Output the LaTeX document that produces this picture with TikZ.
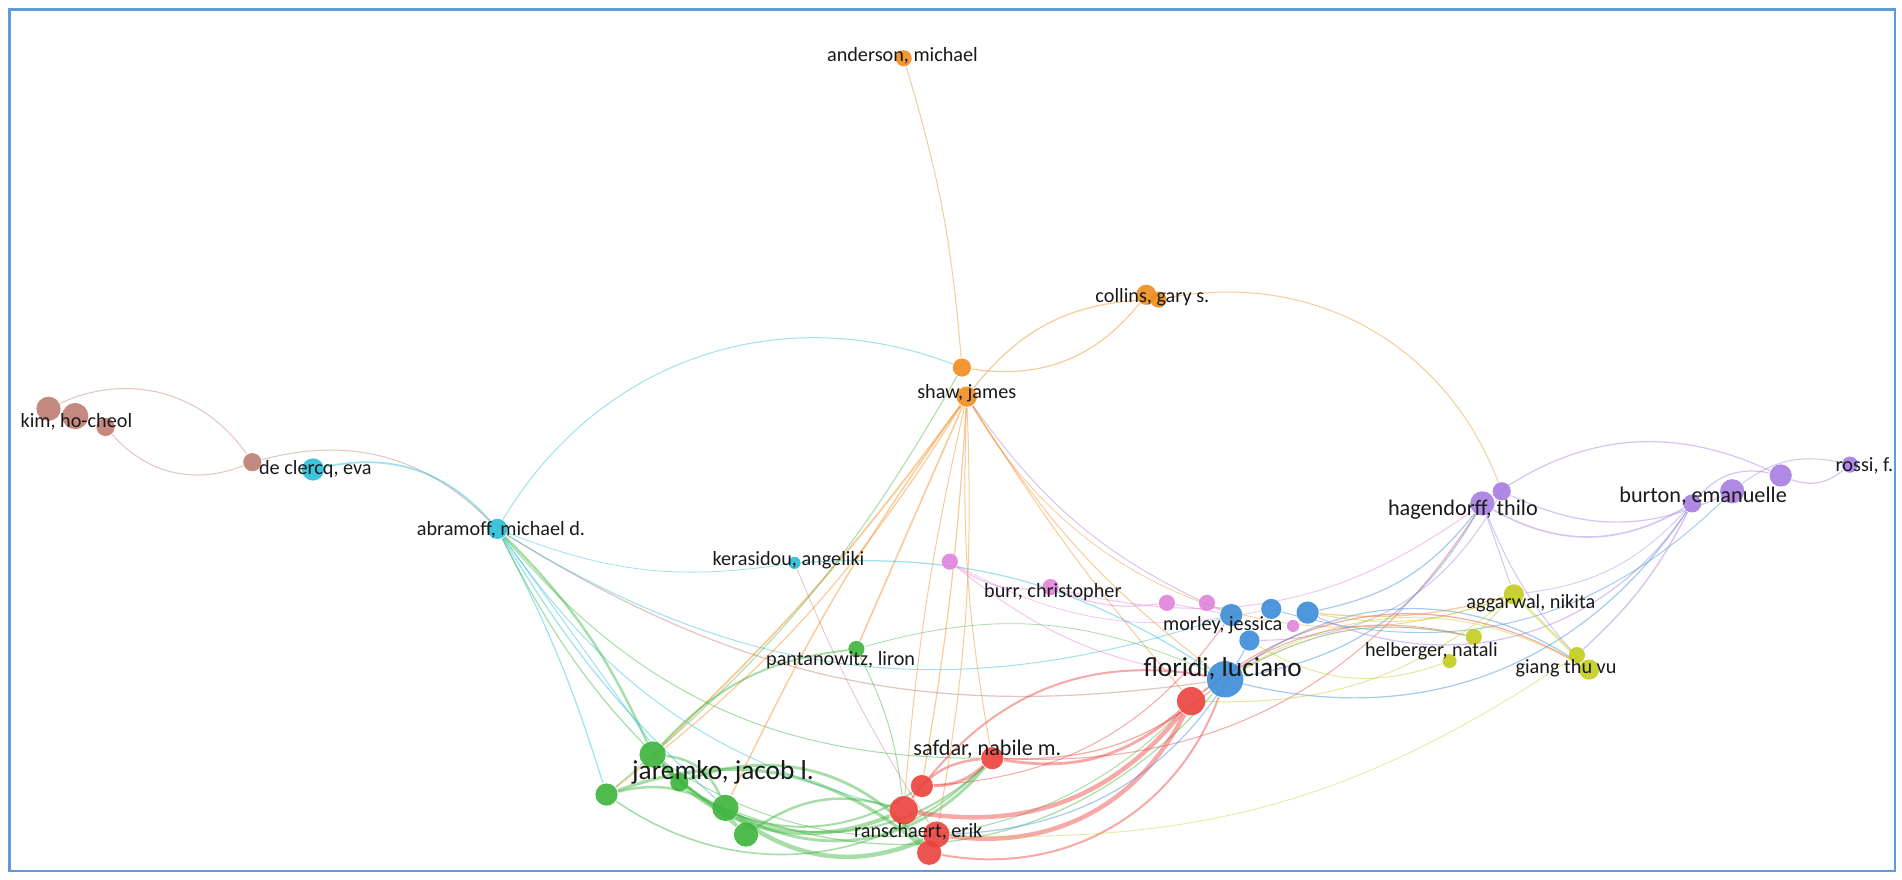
\documentclass[tikz,border=0pt]{standalone}
\usepackage{fontspec}
\setmainfont{Carlito}
\usepackage{xcolor}
\usetikzlibrary{backgrounds}
\definecolor{vorange}{RGB}{240,140,30}
\definecolor{vbrown}{RGB}{190,125,115}
\definecolor{vcyan}{RGB}{40,190,215}
\definecolor{vpink}{RGB}{225,130,220}
\definecolor{vblue}{RGB}{60,140,215}
\definecolor{vred}{RGB}{235,65,60}
\definecolor{vgreen}{RGB}{60,180,60}
\definecolor{vpurple}{RGB}{165,125,225}
\definecolor{vyellow}{RGB}{195,205,30}
\definecolor{vframe}{RGB}{95,155,215}
\tikzset{every picture/.style={line width=0.75pt}}

\begin{document}
\begin{tikzpicture}[x=0.6pt,y=-0.6pt,
  dot/.style={circle,fill=#1,draw=none,inner sep=0pt,fill opacity=0.9},
  lbl/.style={inner sep=0pt,text=black!90,font=\fontsize{10}{12}\selectfont},
  lblm/.style={lbl,font=\fontsize{11}{13}\selectfont},
  lblb/.style={lbl,font=\fontsize{13.5}{15}\selectfont},
  link/.style={draw=#1,draw opacity=0.45}]
\useasboundingbox (0,0) rectangle (1568,725);

%Circles: orange cluster
\node[dot=vorange,minimum size=8pt] (and) at (745,48) {};
\node[dot=vorange,minimum size=10pt] (col1) at (945,243) {};
\node[dot=vorange,minimum size=8pt] (col2) at (955,247) {};
\node[dot=vorange,minimum size=9pt] (shaw1) at (793,303) {};
\node[dot=vorange,minimum size=10pt] (shaw2) at (797,327) {};
%Circles: brown cluster
\node[dot=vbrown,minimum size=12pt] (kim1) at (40,337) {};
\node[dot=vbrown,minimum size=13pt] (kim2) at (62,343) {};
\node[dot=vbrown,minimum size=9pt] (kim3) at (87,352) {};
\node[dot=vbrown,minimum size=9pt] (dec1) at (208,381) {};
%Circles: cyan cluster
\node[dot=vcyan,minimum size=11pt] (dec2) at (258,387) {};
\node[dot=vcyan,minimum size=10pt] (abr) at (410,436) {};
\node[dot=vcyan,minimum size=6pt] (ker) at (655,464) {};
%Circles: pink cluster
\node[dot=vpink,minimum size=8pt] (pk1) at (783,463) {};
\node[dot=vpink,minimum size=8pt] (burr) at (866,484) {};
\node[dot=vpink,minimum size=8pt] (pk2) at (962,497) {};
\node[dot=vpink,minimum size=8pt] (pk3) at (995,497) {};
\node[dot=vpink,minimum size=6pt] (pk4) at (1066,516) {};
%Circles: blue cluster
\node[dot=vblue,minimum size=11pt] (mor1) at (1015,507) {};
\node[dot=vblue,minimum size=10pt] (mor2) at (1048,502) {};
\node[dot=vblue,minimum size=11pt] (mor3) at (1078,505) {};
\node[dot=vblue,minimum size=10pt] (mor4) at (1030,528) {};
\node[dot=vblue,minimum size=18pt] (flo) at (1010,560) {};
%Circles: red cluster
\node[dot=vred,minimum size=14pt] (red1) at (982,578) {};
\node[dot=vred,minimum size=11pt] (saf) at (818,625) {};
\node[dot=vred,minimum size=11pt] (ran1) at (760,648) {};
\node[dot=vred,minimum size=14pt] (ran2) at (745,668) {};
\node[dot=vred,minimum size=13pt] (ran3) at (772,688) {};
\node[dot=vred,minimum size=12pt] (ran4) at (766,703) {};
%Circles: green cluster
\node[dot=vgreen,minimum size=13pt] (jar1) at (538,622) {};
\node[dot=vgreen,minimum size=9pt] (jar2) at (560,645) {};
\node[dot=vgreen,minimum size=11pt] (jar3) at (500,655) {};
\node[dot=vgreen,minimum size=13pt] (jar4) at (598,666) {};
\node[dot=vgreen,minimum size=12pt] (jar5) at (615,688) {};
\node[dot=vgreen,minimum size=8pt] (pan) at (706,535) {};
%Circles: purple cluster
\node[dot=vpurple,minimum size=12pt] (hag1) at (1222,415) {};
\node[dot=vpurple,minimum size=9pt] (hag2) at (1238,405) {};
\node[dot=vpurple,minimum size=9pt] (bur1) at (1395,415) {};
\node[dot=vpurple,minimum size=12pt] (bur2) at (1428,405) {};
\node[dot=vpurple,minimum size=11pt] (bur3) at (1468,392) {};
\node[dot=vpurple,minimum size=8pt] (ros) at (1525,383) {};
%Circles: yellow cluster
\node[dot=vyellow,minimum size=10pt] (agg) at (1248,490) {};
\node[dot=vyellow,minimum size=8pt] (hel1) at (1215,525) {};
\node[dot=vyellow,minimum size=7pt] (hel2) at (1195,545) {};
\node[dot=vyellow,minimum size=8pt] (gia1) at (1300,540) {};
\node[dot=vyellow,minimum size=10pt] (gia2) at (1310,552) {};

\begin{scope}[on background layer]
%Frame
\draw[vframe,line width=1.2pt] (8,8) rectangle (1562,718);
%Links
\foreach \a/\b/\c/\w/\bd in {
  and/shaw1/vorange/0.5/6, shaw1/col1/vorange/0.6/-30, shaw2/col2/vorange/0.6/25,
  col2/hag2/vorange/0.5/40, shaw1/abr/vcyan/0.5/-40,
  shaw2/jar1/vorange/0.9/5, shaw2/jar4/vorange/0.7/-5, shaw2/jar3/vorange/0.6/10,
  shaw2/pan/vorange/0.8/0, shaw2/ran1/vorange/0.6/3, shaw2/ran2/vorange/0.5/-4,
  shaw2/ran3/vorange/0.5/6, shaw2/saf/vorange/0.5/-6, shaw2/flo/vorange/0.5/-10,
  shaw2/mor1/vpurple/0.5/-15, shaw2/red1/vorange/0.5/-4, shaw2/agg/vorange/0.4/-40,
  kim3/dec1/vbrown/0.5/-35, kim1/dec1/vbrown/0.5/40,
  dec1/abr/vbrown/0.5/30, dec2/abr/vcyan/0.9/30,
  abr/jar1/vgreen/1.2/10, abr/jar3/vcyan/0.6/5, abr/jar4/vcyan/0.6/-8,
  abr/jar5/vgreen/0.6/-12, abr/jar2/vcyan/0.5/0, abr/ran2/vcyan/0.5/-20,
  abr/saf/vgreen/0.5/-25, abr/flo/vbrown/0.6/-20, abr/mor1/vcyan/0.5/-25,
  abr/ker/vcyan/0.4/-15, ker/flo/vcyan/0.6/18, ker/ran3/vbrown/0.4/-5,
  jar1/ran2/vgreen/2/-35, jar4/ran3/vgreen/2.2/-30, jar3/ran4/vgreen/1.6/30,
  jar1/ran1/vgreen/1/-40, jar5/ran2/vgreen/1.2/25, jar1/saf/vgreen/1/-45,
  jar4/saf/vgreen/1.4/-40, jar2/ran4/vgreen/1.4/35,
  jar4/flo/vgreen/0.6/-35, jar1/red1/vgreen/0.5/-40, jar3/saf/vgreen/0.8/-40,
  pan/jar1/vgreen/1/-20, pan/ran2/vgreen/0.5/10, pan/flo/vgreen/0.4/20,
  jar1/jar4/vgreen/1.2/30, jar3/jar5/vgreen/1.2/30, jar3/shaw1/vgreen/0.5/-10,
  ran2/red1/vred/2.2/-30, ran3/red1/vred/2.2/-35, ran4/flo/vred/1/-40,
  saf/red1/vred/1.4/-25, saf/flo/vred/0.6/-20, ran1/mor1/vred/0.5/-25,
  ran1/saf/vred/1.6/-20, ran2/saf/vred/1.2/25,
  saf/hag1/vred/0.5/-30, red1/gia2/vred/0.6/35, red1/hel1/vred/0.5/25,
  ran1/flo/vred/1/30, ran3/mor4/vblue/0.6/-30,
  pk1/burr/vpink/0.6/-20, burr/pk2/vpink/0.6/-15, pk1/flo/vpink/0.5/-15,
  burr/hag1/vpink/0.5/-25, pk2/mor1/vpink/0.5/0, pk1/mor2/vpink/0.4/-20,
  flo/hag1/vblue/0.6/-25, mor3/hag1/vblue/0.6/-20, flo/bur1/vblue/0.6/-35,
  mor2/bur2/vblue/0.5/-30, flo/gia2/vblue/0.6/35, mor3/agg/vorange/0.6/-10,
  flo/hel1/vblue/0.5/20, mor4/hag2/vpurple/0.5/-30,
  hag1/bur1/vpurple/0.8/-30, hag2/bur2/vpurple/0.6/-25, hag1/bur3/vpurple/0.6/30,
  bur3/ros/vpurple/0.6/-30, bur2/ros/vpurple/0.5/25, hag1/agg/vpurple/0.5/0,
  hag1/gia2/vpurple/0.5/-10, bur1/gia1/vpurple/0.7/10, bur1/agg/vpurple/0.4/20,
  mor3/bur1/vpurple/0.6/-40, bur1/bur3/vpurple/0.6/30,
  agg/gia2/vyellow/1.2/0, agg/hel1/vyellow/0.6/0, hel1/flo/vyellow/0.5/-20,
  gia2/flo/vyellow/0.5/-30, agg/mor3/vyellow/0.5/15, agg/red1/vyellow/0.5/20,
  hel2/mor4/vyellow/0.5/25, gia1/ran3/vyellow/0.4/18}
  \draw[link=\c,line width=\w pt] (\a) to[bend left=\bd] (\b);
\end{scope}

%Labels
\node[lbl] (t-and) at (744,46) {anderson, michael};
\node[lbl] (t-col) at (950,245) {collins, gary s.};
\node[lbl] (t-shaw) at (797,324) {shaw, james};
\node[lbl] (t-kim) at (63,348) {kim, ho-cheol};
\node[lbl] (t-dec) at (260,387) {de clercq, eva};
\node[lbl] (t-abr) at (413,437) {abramoff, michael d.};
\node[lbl] (t-ker) at (650,462) {kerasidou, angeliki};
\node[lbl] (t-burr) at (868,488) {burr, christopher};
\node[lbl] (t-mor) at (1008,515) {morley, jessica};
\node[lblb] (t-flo) at (1008,551) {floridi, luciano};
\node[lbl] (t-pan) at (693,544) {pantanowitz, liron};
\node[lblb] (t-jar) at (596,637) {jaremko, jacob l.};
\node[lblm] (t-saf) at (814,618) {safdar, nabile m.};
\node[lbl] (t-ran) at (757,686) {ranschaert, erik};
\node[lblm] (t-hag) at (1206,420) {hagendorff, thilo};
\node[lblm] (t-bur) at (1404,409) {burton, emanuelle};
\node[lbl] (t-ros) at (1537,384) {rossi, f.};
\node[lbl] (t-agg) at (1262,497) {aggarwal, nikita};
\node[lbl] (t-hel) at (1180,537) {helberger, natali};
\node[lbl] (t-gia) at (1291,551) {giang thu vu};
\end{tikzpicture}
\end{document}
